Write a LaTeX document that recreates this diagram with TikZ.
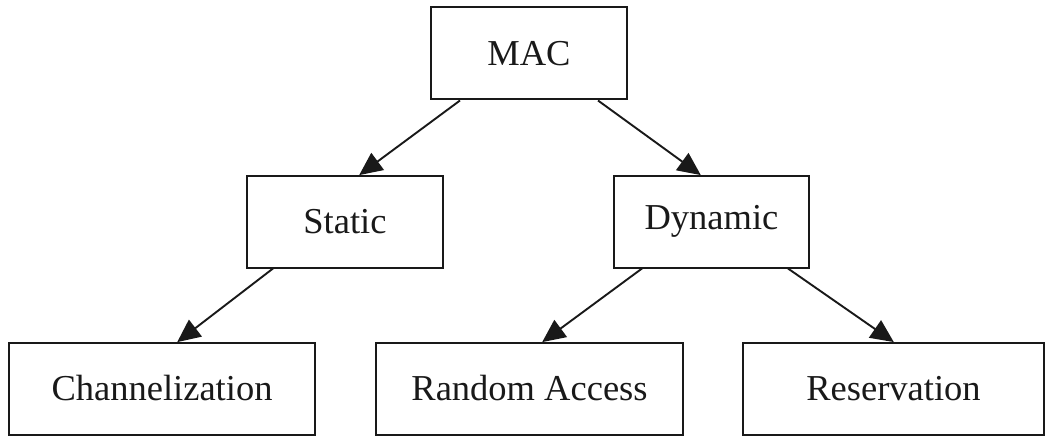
\documentclass[tikz,border=0pt]{standalone}
\usepackage{fontspec}
\setmainfont{Liberation Serif}
\usetikzlibrary{arrows.meta}
\begin{document}
\begin{tikzpicture}[x=1pt,y=-1pt,
  box/.style={draw=black!90, line width=2pt, rectangle, inner sep=0pt, minimum height=92pt,
    font=\fontsize{36.5}{40}\selectfont, text=black!90},
  arr/.style={line width=1.9pt, draw=black!90, -{Triangle[length=23pt,width=21pt]}, shorten >=-1pt}]
\useasboundingbox (0,0) rectangle (1045,436);
\node[box, minimum width=196pt] (mac) at (529,53.5) {MAC};
\node[box, minimum width=196pt] (static) at (345,221.5) {Static};
\node[box, minimum width=195pt] (dynamic) at (711.5,221.5) {Dynamic};
\node[box, minimum width=306pt] (chan) at (162,388.5) {Channelization};
\node[box, minimum width=307pt] (ra) at (529.5,388.5) {Random Access};
\node[box, minimum width=301pt] (res) at (893.5,388.5) {Reservation};
\draw[arr] ([xshift=-69pt]mac.south) -- ([xshift=15pt]static.north);
\draw[arr] ([xshift=69pt]mac.south) -- ([xshift=-11.5pt]dynamic.north);
\draw[arr] ([xshift=-72pt]static.south) -- ([xshift=16pt]chan.north);
\draw[arr] ([xshift=-69.5pt]dynamic.south) -- ([xshift=13.5pt]ra.north);
\draw[arr] ([xshift=76.5pt]dynamic.south) -- ([xshift=-0.5pt]res.north);
\end{tikzpicture}
\end{document}
